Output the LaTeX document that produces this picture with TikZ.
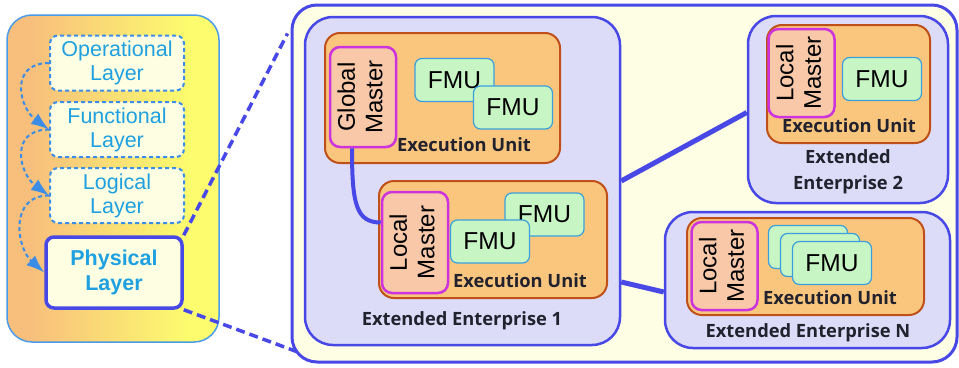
\documentclass[tikz,border=0pt]{standalone}
\usepackage{fontspec}
\usepackage{graphicx}
\setmainfont{Liberation Sans}
\newfontfamily\labelfont{Open Sans}
\usepackage{tikz}
\usetikzlibrary{shapes,arrows.meta,positioning}
\definecolor{panelblue}{HTML}{4A9BEA}
\definecolor{panelleft}{HTML}{F8BE7C}
\definecolor{panelright}{HTML}{FCFC6E}
\definecolor{layerfill}{HTML}{FEFEE2}
\definecolor{layerline}{HTML}{3B8DE6}
\definecolor{layertext}{HTML}{1FA0E0}
\definecolor{deepblue}{HTML}{4848E6}
\definecolor{zonefill}{HTML}{FEFEE4}
\definecolor{eefill}{HTML}{DCDCF8}
\definecolor{eufill}{HTML}{FAC67E}
\definecolor{euline}{HTML}{C0501A}
\definecolor{masterfill}{HTML}{F8C8A8}
\definecolor{masterline}{HTML}{CC33DD}
\definecolor{fmufill}{HTML}{C8F5C4}
\definecolor{fmuline}{HTML}{3AA0DC}
\definecolor{labeltext}{HTML}{22222E}
\pgfdeclarehorizontalshading{stackshade}{100bp}{color(0bp)=(panelleft); color(30bp)=(panelleft); color(68bp)=(panelright); color(100bp)=(panelright)}
\tikzstyle{panel} = [draw=panelblue,line width=1.5pt,rectangle,rounded corners=25pt,shading=stackshade,inner sep=0,minimum width=212pt,minimum height=327pt]
\tikzstyle{layer} = [draw=layerline,line width=2pt,dash pattern=on 4pt off 3pt,rounded corners=8pt,fill=layerfill,text=layertext,align=center,inner sep=0,minimum width=134pt,minimum height=55pt,font=\fontsize{21.5}{24}\selectfont]
\tikzstyle{physical} = [layer,solid,draw=deepblue,line width=3.5pt,minimum width=136pt,minimum height=71pt,font=\fontsize{21.5}{25}\selectfont\bfseries]
\tikzstyle{stackarrow} = [layerline,line width=2pt,dash pattern=on 4pt off 3pt,-{Latex[length=18pt,width=13pt]}]
\tikzstyle{zoomline} = [deepblue,line width=3.5pt,dash pattern=on 9pt off 5pt]
\tikzstyle{zone} = [draw=deepblue,line width=3pt,rectangle,rounded corners=25pt,fill=zonefill,inner sep=0]
\tikzstyle{enterprise} = [draw=deepblue,line width=2.5pt,rectangle,rounded corners=28pt,fill=eefill,inner sep=0]
\tikzstyle{unit} = [draw=euline,line width=2pt,rectangle,rounded corners=15pt,fill=eufill,inner sep=0]
\tikzstyle{master} = [draw=masterline,line width=2.5pt,rectangle,rounded corners=10pt,fill=masterfill,inner sep=0,minimum width=66pt,font=\fontsize{24}{27.5}\selectfont]
\tikzstyle{fmu} = [draw=fmuline,line width=1.2pt,rectangle,rounded corners=7pt,fill=fmufill,inner sep=0,minimum width=79pt,minimum height=43pt,font=\fontsize{24.5}{27}\selectfont]
\tikzstyle{link} = [deepblue,line width=5pt]
\tikzstyle{unitlabel} = [text=labeltext,font=\labelfont\bfseries\fontsize{18.3}{26}\selectfont,anchor=base,inner sep=0]
\tikzstyle{eelabel} = [unitlabel]
\def \rottext#1#2{\rotatebox{90}{\begin{tabular}{@{}c@{}}#1\\#2\end{tabular}}}

\begin{document}
\begin{tikzpicture}[x=1pt,y=-1pt]
  \useasboundingbox (0,0) rectangle (959,367);
  % layer stack
  \node[panel] (stack) at (113,178.5) {};
  \node[layer] (op) at (117,63) {Operational\\Layer};
  \node[layer] (fun) at (117,129.5) {Functional\\Layer};
  \node[layer] (log) at (117,195.5) {Logical\\Layer};
  \node[physical] (phys) at (114,272.5) {Physical\\Layer};
  \draw[stackarrow] (op.west) .. controls +(-40,0) and +(-30,-22) .. (fun.west);
  \draw[stackarrow] (fun.west) .. controls +(-40,0) and +(-30,-22) .. (log.west);
  \draw[stackarrow] (log.west) .. controls +(-40,0) and +(-28,-25) .. (phys.west);
  % zoomed physical layer
  \node[zone, minimum width=665pt, minimum height=357pt] (zone) at (624.5,183.5) {};
  \draw[zoomline] (phys.north east) -- ([xshift=-3pt,yshift=-30pt]zone.north west);
  \draw[zoomline] (phys.south east) -- ([xshift=6pt,yshift=12pt]zone.south west);
  % extended enterprise 1
  \node[enterprise, minimum width=315pt, minimum height=328pt] (ee1) at (462.5,181) {};
  \node[unit, minimum width=235pt, minimum height=130pt] (eu1) at (442.5,98) {};
  \node[master, minimum height=100pt] (gm) at (363,97) {\rottext{Global}{Master}};
  \node[fmu] (fmu1a) at (454.5,80) {FMU};
  \node[fmu] (fmu1b) at (513,107.5) {FMU};
  \node[unitlabel] (eu1lab) at (464,151) {Execution Unit};
  \node[unit, minimum width=228pt, minimum height=117pt] (eu2) at (493,239.5) {};
  \node[master, minimum height=101pt] (lm1) at (415,242.5) {\rottext{Local}{Master}};
  \node[fmu] (fmu2a) at (544.5,214.5) {FMU};
  \node[fmu] (fmu2b) at (490,241.5) {FMU};
  \node[unitlabel] (eu2lab) at (520,287) {Execution Unit};
  \node[eelabel] (ee1lab) at (462,325) {Extended Enterprise 1};
  \draw[link, line width=4pt] ([xshift=-11pt]gm.south) .. controls +(0,55) and +(-25,0) .. ([yshift=20pt]lm1.west);
  % extended enterprise 2
  \node[enterprise, minimum width=200pt, minimum height=187pt] (ee2) at (848,109.5) {};
  \node[unit, minimum width=163pt, minimum height=118pt] (eu3) at (848.5,84) {};
  \node[master, minimum height=88pt] (lm2) at (801.5,73) {\rottext{Local}{Master}};
  \node[fmu] (fmu3) at (882,79) {FMU};
  \node[unitlabel] (eu3lab) at (849,132) {Execution Unit};
  \node[eelabel, align=center, anchor=center] (ee2lab) at (848,172) {Extended\\Enterprise 2};
  % extended enterprise N
  \node[enterprise, minimum width=285pt, minimum height=136pt] (een) at (807.5,280) {};
  \node[unit, minimum width=237pt, minimum height=97pt] (eu4) at (805.5,266.5) {};
  \node[master, minimum height=88pt] (lm3) at (724.5,266) {\rottext{Local}{Master}};
  \foreach \i/\x/\y in {a/808/247,b/820/255}
    \node[fmu] (fmu4\i) at (\x,\y) {};
  \node[fmu] (fmu4c) at (832,263) {FMU};
  \node[unitlabel] (eu4lab) at (830,304) {Execution Unit};
  \node[eelabel] (eenlab) at (808,337) {Extended Enterprise N};
  % links between enterprises
  \draw[link] (ee1.east) -- ([yshift=-3pt]ee2.west);
  \draw[link] ([yshift=-101pt]ee1.east) -- ([yshift=-12pt]een.west);
\end{tikzpicture}
\end{document}
